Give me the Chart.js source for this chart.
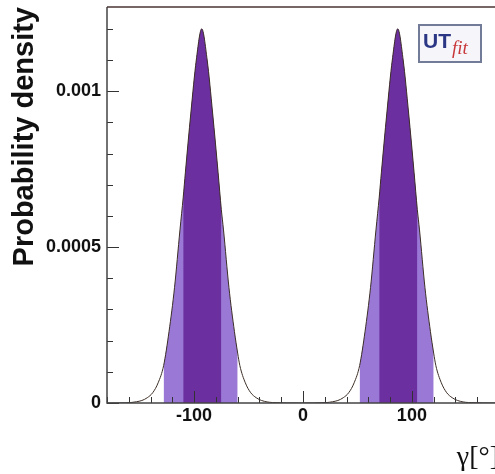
<!DOCTYPE html>
<html><head><meta charset="utf-8">
<script src="https://cdn.jsdelivr.net/npm/chart.js@4/dist/chart.umd.min.js"></script>
<style>
html,body{margin:0;padding:0;overflow:hidden;background:#fff;width:495px;height:474px}
#wrap{position:absolute;left:0;top:0;width:520px;height:474px}
</style>
</head><body><div id="wrap"><canvas id="c" width="520" height="474"></canvas></div>
<script>
// gamma angle in degrees and probability density
const gammaDeg = [-180,-168,-158,-153,-148,-143,-138,-133,-128,-123,-118,-113,-110,-108,-103,-98,-93,-88,-83,-78,-75,-73,-68,-63,-60,-58,-53,-48,-43,-38,-28,-3,
  22,27,32,37,42,47,52,57,62,67,70,72,77,82,87,92,97,102,105,107,112,117,120,122,127,132,137,142,152,180];
const density = [0,0.0000003,0.0000015,0.000004,0.000008,0.000017,0.000033,0.000065,0.00012,0.00023,0.00037,0.000555,0.00066,0.00074,0.00093,0.0011,0.0012,0.0011,0.00093,0.00074,0.00062,0.000555,0.00037,0.00023,0.00016,0.00012,0.000065,0.000033,0.000017,0.000008,0.0000015,0,
  0.0000015,0.000004,0.000008,0.000017,0.000033,0.000065,0.00012,0.00023,0.00037,0.000555,0.00066,0.00074,0.00093,0.0011,0.0012,0.0011,0.00093,0.00074,0.00062,0.000555,0.00037,0.00023,0.00016,0.00012,0.000065,0.000033,0.000017,0.000008,0.0000015,0];
// 68% (dark) and 95% (light) probability intervals
const darkRanges = [[-110,-75],[70,105]];
const lightRanges = [[-128,-60],[52,120]];
const xTickValues = [-100,0,100];
const xTickLabels = ['-100','0','100'];
const yTickValues = [0,0.0005,0.001];
const yTickLabels = ['0','0.0005','0.001'];

const pts = gammaDeg.map((g,i)=>({x:g,y:density[i]}));
const inRange = (r)=>pts.filter(p=>p.x>=r[0] && p.x<=r[1]);

const DARK='#6c2f9f', LIGHT='#9a78d6';
const datasets = [
  {data:pts, borderColor:'#3b2d25', borderWidth:1, fill:false, pointRadius:0, cubicInterpolationMode:'monotone', order:0}
];
darkRanges.forEach(r=>datasets.push({data:inRange(r), borderWidth:0, borderColor:DARK, backgroundColor:DARK, fill:'origin', pointRadius:0, cubicInterpolationMode:'monotone', order:1}));
lightRanges.forEach(r=>datasets.push({data:inRange(r), borderWidth:0, borderColor:LIGHT, backgroundColor:LIGHT, fill:'origin', pointRadius:0, cubicInterpolationMode:'monotone', order:2}));

const frameTicks = {
  id:'frameTicks',
  afterDatasetsDraw(chart){
    const {ctx, chartArea:a, scales:{x,y}} = chart;
    ctx.save();
    ctx.strokeStyle='#333';
    ctx.lineWidth=1;
    ctx.beginPath();
    for(let v=-180; v<=180; v+=20){
      const px=Math.round(x.getPixelForValue(v))+0.5;
      const len = (v%100===0)?12:6;
      ctx.moveTo(px,a.bottom); ctx.lineTo(px,a.bottom-len);
    }
    for(let k=0;k<=12;k++){
      const v=k*0.0001;
      const py=Math.round(y.getPixelForValue(v))+0.5;
      const len=(k%5===0)?12:6;
      ctx.moveTo(a.left,py); ctx.lineTo(a.left+len,py);
    }
    ctx.stroke();
    ctx.lineWidth=1.5;
    ctx.strokeStyle='#444';
    ctx.beginPath();
    ctx.moveTo(a.left,a.top); ctx.lineTo(a.left,a.bottom); ctx.lineTo(a.right,a.bottom);
    ctx.stroke();
    ctx.strokeStyle='#4a3434';
    ctx.beginPath();
    ctx.moveTo(a.left,a.top); ctx.lineTo(a.right,a.top); ctx.lineTo(a.right,a.bottom);
    ctx.stroke();
    // UTfit logo
    ctx.fillStyle='#f6f6fa';
    ctx.fillRect(419,25,62,37);
    ctx.strokeStyle='#727b98';
    ctx.lineWidth=2;
    ctx.strokeRect(419,25,62,37);
    ctx.fillStyle='#2b3685';
    ctx.font='bold 21px "Liberation Sans"';
    ctx.textBaseline='alphabetic';
    ctx.fillText('UT',423,48);
    ctx.fillStyle='#c8383a';
    ctx.font='italic 19px "Liberation Serif"';
    ctx.fillText('fit',452,54);
    ctx.restore();
  }
};

function noPad(s){s.paddingTop=0;s.paddingBottom=0;s.paddingLeft=0;s.paddingRight=0;}

new Chart(document.getElementById('c'),{
  type:'line',
  data:{datasets},
  options:{
    responsive:false, animation:false, devicePixelRatio:1,
    layout:{padding:{left:0,top:7,right:21,bottom:0}},
    plugins:{legend:{display:false},tooltip:{enabled:false}},
    scales:{
      x:{type:'linear', min:-180, max:180,
        afterFit(s){s.height=71;noPad(s);},
        afterBuildTicks(s){s.ticks=xTickValues.map(v=>({value:v}));},
        ticks:{callback:(v)=>xTickLabels[xTickValues.indexOf(v)], font:{family:'Liberation Sans',size:18,weight:'bold'}, color:'#111', padding:2, maxRotation:0, autoSkip:false},
        grid:{display:false, drawTicks:false}, border:{display:false},
        title:{display:true, text:'γ[°]', align:'end', color:'#111', font:{family:'Liberation Serif',size:28}, padding:{top:0,bottom:0}}
      },
      y:{type:'linear', min:0, max:0.00127,
        afterFit(s){s.width=107;noPad(s);},
        afterBuildTicks(s){s.ticks=yTickValues.map(v=>({value:v}));},
        ticks:{callback:(v)=>yTickLabels[yTickValues.indexOf(v)], font:{family:'Liberation Sans',size:18,weight:'bold'}, color:'#111', padding:6},
        grid:{display:false, drawTicks:false}, border:{display:false},
        title:{display:true, text:'Probability density', align:'end', color:'#111', font:{family:'Liberation Sans',size:29,weight:'bold'}, padding:{top:8,bottom:0}}
      }
    }
  },
  plugins:[frameTicks]
});
</script>
</body></html>
